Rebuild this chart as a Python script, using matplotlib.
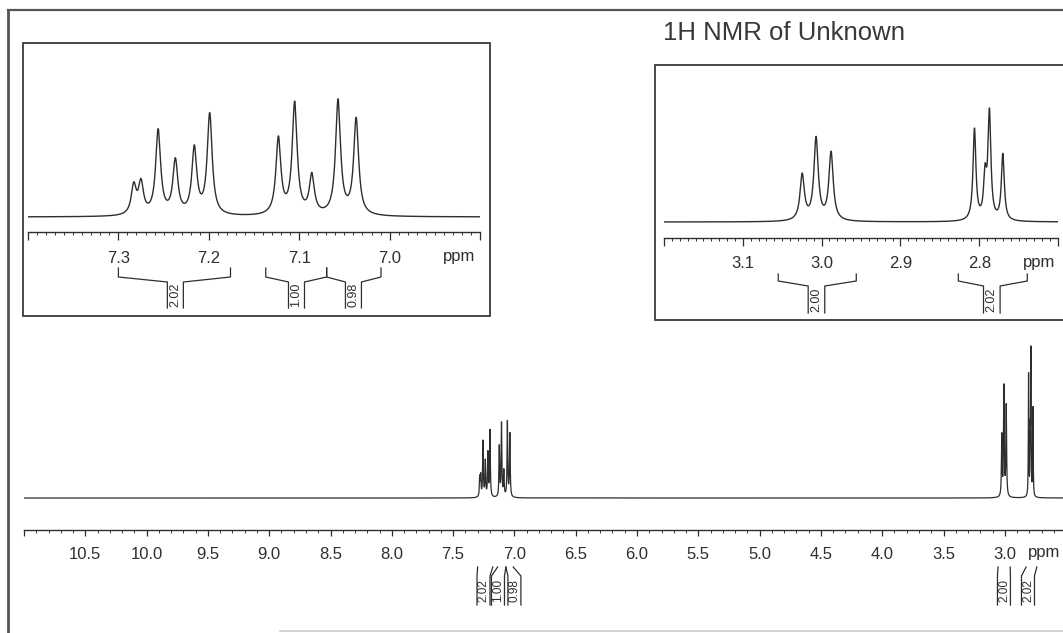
import numpy as np
import matplotlib.pyplot as plt
from matplotlib.patches import Rectangle
from matplotlib.ticker import MultipleLocator
from matplotlib.transforms import blended_transform_factory

plt.rcParams['font.family'] = ['Liberation Sans', 'DejaVu Sans']

W, H = 1063, 633
INK = "#2e2e2e"

# -------------------------------
# peak list (ppm, relative height, tallest line = 100)
# -------------------------------
AROM_SHIFTS = [7.283, 7.275, 7.256, 7.237, 7.216, 7.199, 7.123, 7.105, 7.086, 7.057, 7.037]
AROM_HEIGHTS = [12.4, 13.4, 36.5, 23.3, 28.6, 43.6, 33, 48.1, 16.7, 49.4, 41.5]
CH2A_SHIFTS = [3.0246, 3.007, 2.988]
CH2A_HEIGHTS = [40, 72, 59.7]
CH2B_SHIFTS = [2.806, 2.7925, 2.787, 2.770]
CH2B_HEIGHTS = [80, 36, 93, 58]
# half width at half height, ppm
AROM_HWHM = 0.0033
CH2A_HWHM = 0.0033
CH2B_HWHM = 0.0022

# integrals: (from ppm, to ppm, value)
INTEGRALS = [(7.300, 7.176, "2.02"), (7.137, 7.0696, "1.00"), (7.0696, 7.0095, "0.98"),
             (3.055, 2.956, "2.00"), (2.8265, 2.739, "2.02")]
# where the number sits (ppm) in each panel
LABEL_AT_MAIN = [7.252, 7.134, 7.000, 3.007, 2.811]
LABEL_AT_INSET = [7.237, 7.103, 7.040, 3.0065, 2.784]

MAIN_TICKS = [11.0, 10.5, 10.0, 9.5, 9.0, 8.5, 8.0, 7.5, 7.0, 6.5, 6.0, 5.5, 5.0, 4.5, 4.0, 3.5, 3.0]
MAIN_LABELS = [""] + ["%.1f" % t for t in MAIN_TICKS[1:]]
INSET1_TICKS = [7.4, 7.3, 7.2, 7.1, 7.0, 6.9]
INSET1_LABELS = ["", "7.3", "7.2", "7.1", "7.0", ""]
INSET2_TICKS = [3.2, 3.1, 3.0, 2.9, 2.8, 2.7]
INSET2_LABELS = ["", "3.1", "3.0", "2.9", "2.8", ""]

TITLE = "1H NMR of Unknown"


def lorentz_sum(x, shifts, heights, hwhm):
    y = np.zeros_like(x)
    for c, h in zip(shifts, heights):
        y += h / (1.0 + ((x - c) / hwhm) ** 2)
    return y


def fy(y):
    return 1.0 - y / H


def make_axes(fig, x0, y0, x1, y1):
    ax = fig.add_axes([x0 / W, 1 - y1 / H, (x1 - x0) / W, (y1 - y0) / H])
    ax.patch.set_alpha(0)
    for s in ["top", "left", "right"]:
        ax.spines[s].set_visible(False)
    ax.spines["bottom"].set_color(INK)
    ax.spines["bottom"].set_linewidth(1.0)
    ax.set_yticks([])
    return ax


def style_ticks(ax, ticks, labels, minor, major_len, pad, fs):
    ax.set_xticks(ticks)
    ax.set_xticklabels(labels)
    ax.xaxis.set_minor_locator(MultipleLocator(minor))
    ax.tick_params(axis="x", which="major", direction="out", length=major_len,
                   width=0.9, color=INK, pad=pad, labelsize=fs, labelcolor=INK)
    ax.tick_params(axis="x", which="minor", direction="out", length=2.2,
                   width=0.7, color=INK)


def draw_integral(ax, left, right, center, label, half, ys, fs):
    top, knee, boxtop, bottom = ys
    tr = blended_transform_factory(ax.transData, ax.figure.transFigure)
    bl, br = center + half, center - half
    kw = dict(transform=tr, color=INK, lw=0.9, clip_on=False)
    ax.plot([left, left, bl, bl], [fy(top), fy(knee), fy(boxtop), fy(bottom)], **kw)
    ax.plot([right, right, br, br], [fy(top), fy(knee), fy(boxtop), fy(bottom)], **kw)
    ax.text(center, fy((boxtop + bottom) / 2), label, rotation=90, ha="center",
            va="center", transform=tr, fontsize=fs, color=INK)


x = np.linspace(2.4, 11.1, 90001)
spec = (lorentz_sum(x, AROM_SHIFTS, AROM_HEIGHTS, AROM_HWHM)
        + lorentz_sum(x, CH2A_SHIFTS, CH2A_HEIGHTS, CH2A_HWHM)
        + lorentz_sum(x, CH2B_SHIFTS, CH2B_HEIGHTS, CH2B_HWHM))

fig = plt.figure(figsize=(W / 100, H / 100), dpi=100)

# page frame (scan border)
fig.add_artist(plt.Line2D([8 / W, 8 / W], [fy(633), fy(10)], color="#555555", lw=2.0))
fig.add_artist(plt.Line2D([8 / W, 1.0], [fy(10), fy(10)], color="#555555", lw=1.6))
fig.add_artist(plt.Line2D([280 / W, 1.0], [fy(631), fy(631)], color="#cccccc", lw=1.2))

fig.text(663 / W, fy(33), TITLE, fontsize=18.5, color="#383838", ha="left", va="center")

# -------------------------------
# full spectrum
# -------------------------------
px_main = 122.6
ax = make_axes(fig, 24, 100, 1063, 530)
ax.plot(x, spec, color=INK, lw=0.9)
ax.set_xlim(11.0, 11.0 - (1063 - 24) / px_main)
scale = 152 / 100.0
ax.set_ylim(-32 / scale, (430 - 32) / scale)
style_ticks(ax, MAIN_TICKS, MAIN_LABELS, 0.1, 4.5, 8, 12)
tr = blended_transform_factory(ax.transData, fig.transFigure)
ax.text(2.81, fy(552), "ppm", transform=tr, fontsize=12, color=INK, ha="left", va="center")
for (a, b, lab), c in zip(INTEGRALS, LABEL_AT_MAIN):
    draw_integral(ax, a, b, c, lab, 6.5 / px_main, (567, 567, 576, 605), 8.5)

# -------------------------------
# inset: aromatic region
# -------------------------------
fig.add_artist(Rectangle((23 / W, fy(316)), (490 - 23) / W, (316 - 43) / H,
                         transform=fig.transFigure, fill=True, facecolor="white",
                         edgecolor="#3a3a3a", lw=1.3, zorder=0))
px_in1 = 904.0
ax1 = make_axes(fig, 28, 60, 480, 232)
ax1.plot(x, spec, color=INK, lw=1.0)
ax1.set_xlim(7.4, 6.9)
s1 = 118 / 51.0
ax1.set_ylim(-15 / s1, (172 - 15) / s1)
style_ticks(ax1, INSET1_TICKS, INSET1_LABELS, 0.01, 6, 8, 12)
tr1 = blended_transform_factory(ax1.transData, fig.transFigure)
ax1.text(6.941, fy(257), "ppm", transform=tr1, fontsize=12, color=INK, ha="left", va="center")
for (a, b, lab), c in zip(INTEGRALS[:3], LABEL_AT_INSET[:3]):
    draw_integral(ax1, a, b, c, lab, 8 / px_in1, (268, 277, 282, 308), 9)

# -------------------------------
# inset: aliphatic region
# -------------------------------
fig.add_artist(Rectangle((655 / W, fy(320)), (1100 - 655) / W, (320 - 65) / H,
                         transform=fig.transFigure, fill=True, facecolor="white",
                         edgecolor="#3a3a3a", lw=1.3, zorder=0))
px_in2 = 788.0
ax2 = make_axes(fig, 664, 80, 1058, 238)
ax2.plot(x, spec, color=INK, lw=1.0)
ax2.set_xlim(3.2, 2.7)
s2 = 114 / 100.0
ax2.set_ylim(-16 / s2, (158 - 16) / s2)
style_ticks(ax2, INSET2_TICKS, INSET2_LABELS, 0.01, 6, 7, 12)
tr2 = blended_transform_factory(ax2.transData, fig.transFigure)
ax2.text(2.744, fy(262), "ppm", transform=tr2, fontsize=12, color=INK, ha="left", va="center")
for (a, b, lab), c in zip(INTEGRALS[3:], LABEL_AT_INSET[3:]):
    draw_integral(ax2, a, b, c, lab, 8.3 / px_in2, (274, 281, 286, 313), 9)

fig.savefig("out.png", dpi=100)
